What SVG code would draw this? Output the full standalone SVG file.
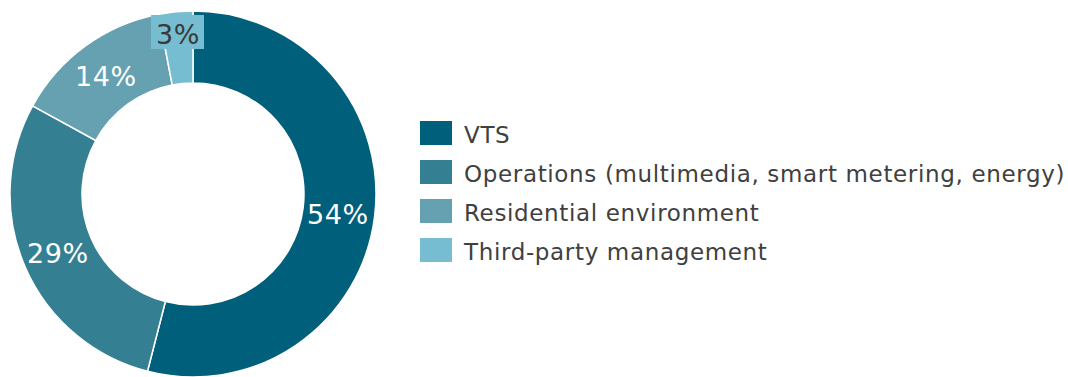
<svg xmlns="http://www.w3.org/2000/svg" width="1068" height="377" viewBox="0 0 1068 377">
<style>
.s{stroke:#fff;stroke-width:1.5}
.c1{fill:#005f7a}.c2{fill:#357f92}.c3{fill:#66a1b1}.c4{fill:#76bdd1}
.lab{font-family:"DejaVu Sans",Verdana,sans-serif;font-size:27px;letter-spacing:0.6px;fill:#fff}
.leg{font-family:"DejaVu Sans",Verdana,sans-serif;font-size:23px;letter-spacing:0.65px;fill:#404040}
</style>
<rect width="1068" height="377" fill="#fff"/>
<g id="slices">
<g id="slice-vts"><path class="s c1" d="M193,11 A183,183 0 1 1 147.49,371.25 L165.39,301.51 A111,111 0 1 0 193,83 Z"/></g>
<g id="slice-ops"><path class="s c2" d="M147.49,371.25 A183,183 0 0 1 32.64,105.83 L95.73,140.52 A111,111 0 0 0 165.39,301.51 Z"/></g>
<g id="slice-res"><path class="s c3" d="M32.64,105.83 A183,183 0 0 1 158.71,14.23 L172.20,84.96 A111,111 0 0 0 95.73,140.52 Z"/></g>
<g id="slice-third"><path class="s c4" d="M158.71,14.23 A183,183 0 0 1 193,11 L193,83 A111,111 0 0 0 172.20,84.96 Z"/></g>
</g>
<g id="labels">
<text class="lab" x="307" y="224">54%</text>
<text class="lab" x="27" y="263">29%</text>
<text class="lab" x="75" y="86">14%</text>
<rect x="151" y="15" width="53" height="34" fill="#76bdd1"/>
<text class="lab" x="156" y="44" style="fill:#3a3a3a">3%</text>
</g>
<g id="legend">
<rect class="c1" x="420" y="121" width="32" height="24"/>
<text class="leg" x="464" y="143">VTS</text>
<rect class="c2" x="420" y="160" width="32" height="24"/>
<text class="leg" x="464" y="182">Operations (multimedia, smart metering, energy)</text>
<rect class="c3" x="420" y="199" width="32" height="24"/>
<text class="leg" x="464" y="221">Residential environment</text>
<rect class="c4" x="420" y="238" width="32" height="24"/>
<text class="leg" x="464" y="260">Third-party management</text>
</g>
</svg>
